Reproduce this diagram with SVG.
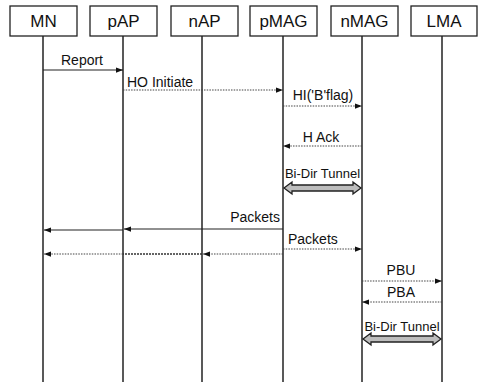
<svg xmlns="http://www.w3.org/2000/svg" width="480" height="382" viewBox="0 0 480 382">
<style>
.box{fill:#fff;stroke:#222;stroke-width:1.3}
.lbl{font-family:"Liberation Sans",Arial,sans-serif;font-size:17px;fill:#111;text-anchor:middle}
.life{stroke:#222;stroke-width:1.5;fill:none}
.msg{font-family:"Liberation Sans",Arial,sans-serif;font-size:14px;fill:#111}
.small{font-family:"Liberation Sans",Arial,sans-serif;font-size:13px;fill:#111}
.solid{stroke:#222;stroke-width:1.2;fill:none}
.dot{stroke:#444;stroke-width:1.2;stroke-dasharray:1.5 1.2;fill:none}
.dark{stroke:#333;stroke-width:1.6;stroke-dasharray:2 1;fill:none}
.tun{fill:#bdbdbd;stroke:#222;stroke-width:1.3}
</style>
<defs>
<marker id="ah" viewBox="0 0 8 6" refX="8" refY="3" markerWidth="7" markerHeight="6" markerUnits="userSpaceOnUse" orient="auto"><path d="M0,0 L8,3 L0,6 z" fill="#111"/></marker>
</defs>
<g id="MN"><rect class="box" x="10" y="6" width="67" height="30"/><text class="lbl" x="43.5" y="27">MN</text><line class="life" x1="43" y1="36" x2="43" y2="382"/></g>
<g id="pAP"><rect class="box" x="90" y="6" width="67" height="30"/><text class="lbl" x="123.5" y="27">pAP</text><line class="life" x1="123" y1="36" x2="123" y2="382"/></g>
<g id="nAP"><rect class="box" x="171" y="6" width="67" height="30"/><text class="lbl" x="204.5" y="27">nAP</text><line class="life" x1="202" y1="36" x2="202" y2="382"/></g>
<g id="pMAG"><rect class="box" x="250" y="6" width="67" height="30"/><text class="lbl" x="283.5" y="27">pMAG</text><line class="life" x1="283" y1="36" x2="283" y2="382"/></g>
<g id="nMAG"><rect class="box" x="331" y="6" width="67" height="30"/><text class="lbl" x="364.5" y="27">nMAG</text><line class="life" x1="362" y1="36" x2="362" y2="382"/></g>
<g id="LMA"><rect class="box" x="411" y="6" width="66" height="30"/><text class="lbl" x="444" y="27">LMA</text><line class="life" x1="442" y1="36" x2="442" y2="382"/></g>
<g id="connectors">
<line class="solid" x1="43" y1="70" x2="123" y2="70" marker-end="url(#ah)"/>
<text class="msg" x="82" y="65" text-anchor="middle">Report</text>
<line class="dot" x1="123" y1="90" x2="283" y2="90" marker-end="url(#ah)"/>
<text class="msg" x="127" y="87">HO Initiate</text>
<line class="dot" x1="283" y1="106" x2="362" y2="106" marker-end="url(#ah)"/>
<text class="msg" x="323" y="100" text-anchor="middle">HI('B'flag)</text>
<line class="dot" x1="362" y1="146" x2="283" y2="146" marker-end="url(#ah)"/>
<text class="msg" x="321" y="142" text-anchor="middle">H Ack</text>
<text class="small" x="322.5" y="178" text-anchor="middle">Bi-Dir Tunnel</text>
<polygon class="tun" points="284,188 292,182 292,185 353,185 353,182 361,188 353,194 353,191 292,191 292,194"/>
<line class="solid" x1="283" y1="229" x2="124" y2="229" marker-end="url(#ah)"/>
<line class="solid" x1="123" y1="230" x2="44" y2="230" marker-end="url(#ah)"/>
<text class="msg" x="280" y="222" text-anchor="end">Packets</text>
<line class="dot" x1="283" y1="249" x2="362" y2="249" marker-end="url(#ah)"/>
<text class="msg" x="288" y="244">Packets</text>
<line class="dot" x1="283" y1="254" x2="203" y2="254" marker-end="url(#ah)"/>
<line class="dark" x1="202" y1="254" x2="123" y2="254"/>
<line class="dot" x1="123" y1="254" x2="44" y2="254" marker-end="url(#ah)"/>
<line class="dot" x1="362" y1="281" x2="442" y2="281" marker-end="url(#ah)"/>
<text class="msg" x="401" y="275" text-anchor="middle">PBU</text>
<line class="dot" x1="442" y1="302" x2="362" y2="302" marker-end="url(#ah)"/>
<text class="msg" x="401" y="297" text-anchor="middle">PBA</text>
<text class="small" x="402" y="331" text-anchor="middle">Bi-Dir Tunnel</text>
<polygon class="tun" points="363,339 371,333 371,336 433,336 433,333 441,339 433,345 433,342 371,342 371,345"/>
</g>
</svg>
